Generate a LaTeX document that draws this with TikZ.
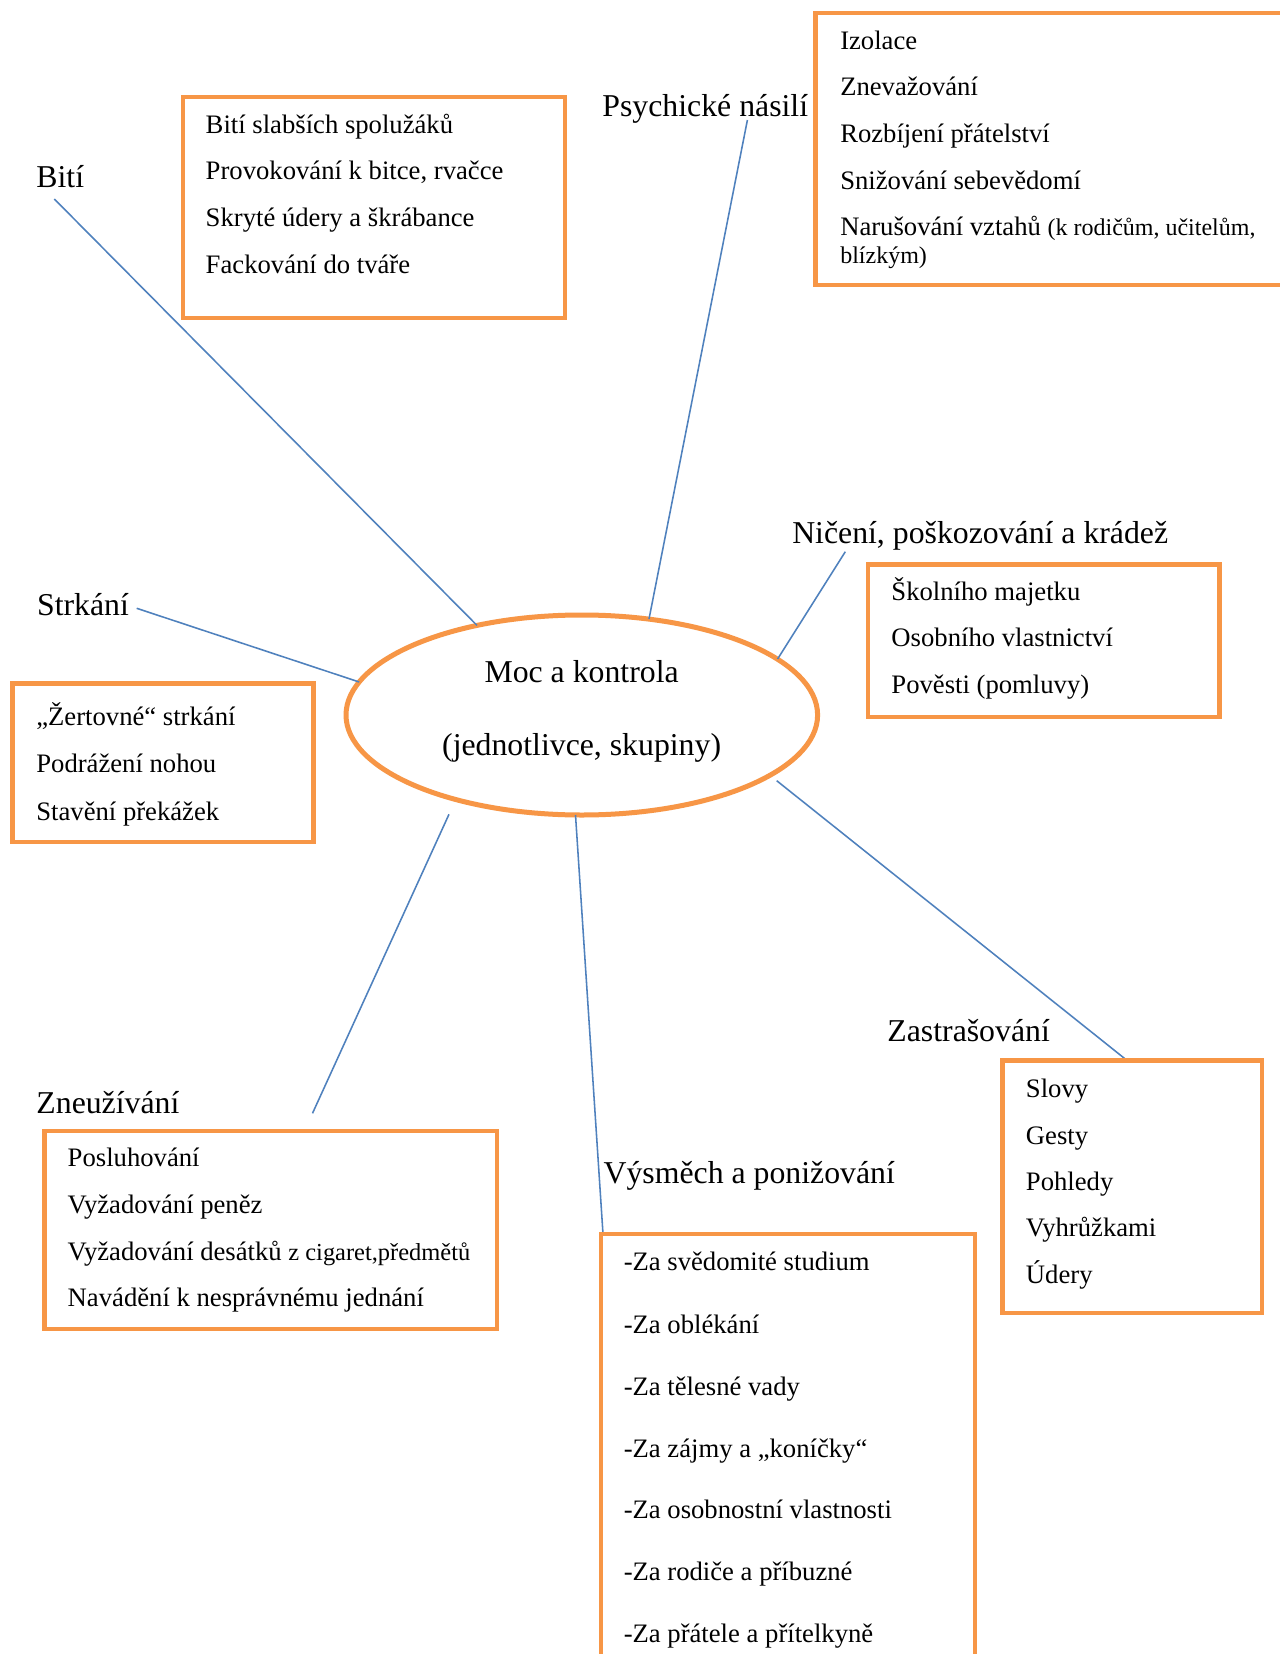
\documentclass[tikz,border=0pt]{standalone}
\usepackage{fontspec}
\setmainfont{Liberation Serif}
\usetikzlibrary{shapes.geometric,fit}
\definecolor{orng}{HTML}{F79646}
\definecolor{lblue}{HTML}{4F81BD}
\begin{document}
\begin{tikzpicture}[x=0.45pt,y=-0.45pt,
  obox/.style={draw=orng, line width=2.2pt, inner sep=0pt, rectangle},
  conn/.style={draw=lblue, line width=0.7pt},
  lbl/.style={anchor=base west, inner sep=0pt, font=\fontsize{14.3pt}{17pt}\selectfont},
  itm/.style={anchor=base west, inner sep=0pt, font=\fontsize{12pt}{14pt}\selectfont},
  ctr/.style={anchor=base, inner sep=0pt, font=\fontsize{14.3pt}{17pt}\selectfont}]
\useasboundingbox[fill=white] (0,0) rectangle (1280,1654);

% ---- centre ellipse
\node[ellipse, draw=orng, line width=2.25pt, minimum width=471.6*0.45pt,
      minimum height=200*0.45pt, inner sep=0pt] (core) at (581.8,715) {};
\node[ctr] (core1) at (581.6,682.7) {Moc a kontrola};
\node[ctr] (core2) at (581.6,755) {(jednotlivce, skupiny)};

% ---- category labels
\node[lbl] (lBiti) at (36,188) {Bití};
\node[lbl] (lPsy) at (602,116.7) {Psychické násilí};
\node[lbl] (lNic) at (791.8,543.3) {Ničení, poškozování a krádež};
\node[lbl] (lStr) at (36.7,615) {Strkání};
\node[lbl] (lZne) at (36,1113.3) {Zneužívání};
\node[lbl] (lVys) at (603.2,1183.3) {Výsměch a ponižování};
\node[lbl] (lZas) at (887,1041.7) {Zastrašování};

% ---- connector end points
\coordinate (cBiti) at (54.3,199);
\coordinate (eBiti) at (477,625.4);
\coordinate (cPsy) at (747.4,120);
\coordinate (ePsy) at (649,619);
\coordinate (cNic) at (845.3,551.7);
\coordinate (eNic) at (777.6,659);
\coordinate (cStr) at (136.7,608.3);
\coordinate (eStr) at (359.2,682);
\coordinate (sZne) at (449,814.3);
\coordinate (cZne) at (312.5,1113.3);
\coordinate (sVys) at (575.5,815);
\coordinate (cVys) at (603,1234);
\coordinate (sZas) at (776.7,780.7);
\coordinate (cZas) at (1127,1060.4);

\draw[conn] (cBiti) -- (eBiti);
\draw[conn] (cPsy) -- (ePsy);
\draw[conn] (cNic) -- (eNic);
\draw[conn] (cStr) -- (eStr);
\draw[conn] (sZne) -- (cZne);
\draw[conn] (sVys) -- (cVys);
\draw[conn] (sZas) -- (cZas);

% ---- boxes
\node[obox, fit={(183,97) (565,318)}] (bBiti) {};
\node[obox, fit={(815.5,13) (1300,285)}] (bPsy) {};
\node[obox, fit={(868,564.5) (1219.7,717)}] (bNic) {};
\node[obox, fit={(12.5,683.5) (313.2,842)}] (bStr) {};
\node[obox, fit={(44.6,1131) (497,1329)}] (bZne) {};
\node[obox, fit={(601,1234) (975,1720)}] (bVys) {};
\node[obox, fit={(1002.8,1060.5) (1262,1313)}] (bZas) {};

% ---- box texts
\node[itm] (t11) at (205.3,133.3) {Bití slabších spolužáků};
\node[itm] (t12) at (205.3,180) {Provokování k bitce, rvačce};
\node[itm] (t13) at (205.3,226.7) {Skryté údery a škrábance};
\node[itm] (t14) at (205.3,273.3) {Fackování do tváře};

\node[itm] (t21) at (839.8,49.3) {Izolace};
\node[itm] (t22) at (839.8,96) {Znevažování};
\node[itm] (t23) at (839.8,142.7) {Rozbíjení přátelství};
\node[itm] (t24) at (839.8,189.3) {Snižování sebevědomí};
\node[itm] (t25) at (839.8,236) {Narušování vztahů {\fontsize{10.8pt}{13pt}\selectfont(k rodičům, učitelům,}};
\node[itm] (t26) at (839.8,263.3) {\fontsize{10.8pt}{13pt}\selectfont blízkým)};

\node[itm] (t31) at (891,600) {Školního majetku};
\node[itm] (t32) at (891,646.7) {Osobního vlastnictví};
\node[itm] (t33) at (891,693.3) {Pověsti (pomluvy)};

\node[itm] (t41) at (35.9,725) {„Žertovné“ strkání};
\node[itm] (t42) at (35.9,772.7) {Podrážení nohou};
\node[itm] (t43) at (35.9,820) {Stavění překážek};

\node[itm] (t51) at (67.3,1166.7) {Posluhování};
\node[itm] (t52) at (67.3,1213.3) {Vyžadování peněz};
\node[itm] (t53) at (67.3,1260) {Vyžadování desátků {\fontsize{11pt}{13pt}\selectfont z cigaret,předmětů}};
\node[itm] (t54) at (67.3,1306) {Navádění k nesprávnému jednání};

\node[itm] (t61) at (623.3,1270.8) {-Za svědomité studium};
\node[itm] (t62) at (623.3,1333.3) {-Za oblékání};
\node[itm] (t63) at (623.3,1395) {-Za tělesné vady};
\node[itm] (t64) at (623.3,1457) {-Za zájmy a „koníčky“};
\node[itm] (t65) at (623.3,1518.75) {-Za osobnostní vlastnosti};
\node[itm] (t66) at (623.3,1580.4) {-Za rodiče a příbuzné};
\node[itm] (t67) at (623.3,1642.5) {-Za přátele a přítelkyně};

\node[itm] (t71) at (1025.5,1097.9) {Slovy};
\node[itm] (t72) at (1025.5,1144.6) {Gesty};
\node[itm] (t73) at (1025.5,1190.8) {Pohledy};
\node[itm] (t74) at (1025.5,1236.7) {Vyhrůžkami};
\node[itm] (t75) at (1025.5,1283.3) {Údery};
\end{tikzpicture}
\end{document}
